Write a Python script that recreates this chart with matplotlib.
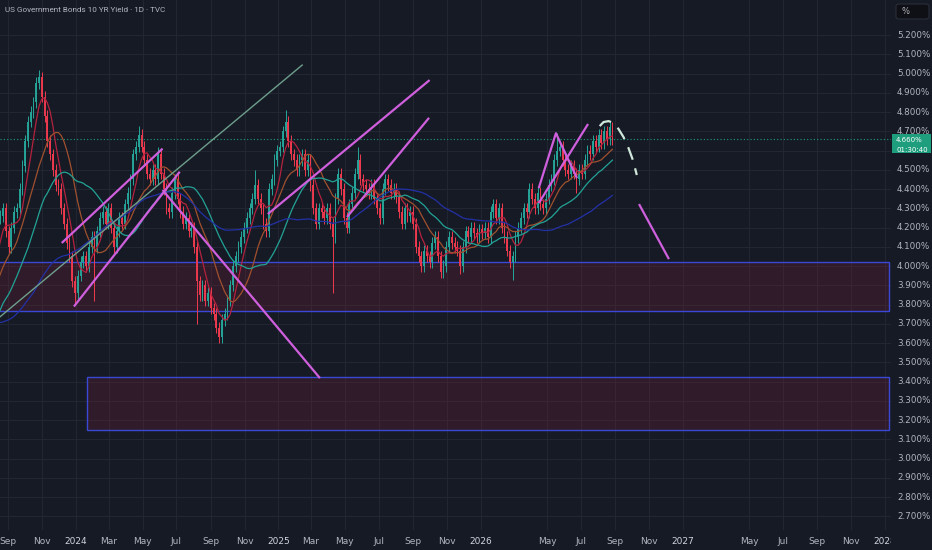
import matplotlib
matplotlib.use("Agg")
import matplotlib.pyplot as plt
import matplotlib.dates as mdates
from matplotlib.patches import Rectangle, FancyBboxPatch
from matplotlib.transforms import blended_transform_factory
import numpy as np
import pandas as pd

BG = "#161a25"
GRID = "#222632"
TXT = "#b2b5be"
UP = "#26a69a"
DOWN = "#ef3a4f"
PINK = "#cf5fdd"

title = "US Government Bonds 10 YR Yield · 1D · TVC"

# one candle every 5 calendar days, first one on 2023-08-18
first_day = "2023-08-18"
closes = [
    4.26, 4.30, 4.18, 4.10, 4.20, 4.28, 4.30, 4.40, 4.52, 4.65,
    4.75, 4.80, 4.85, 4.95, 4.98, 4.88, 4.78, 4.65, 4.58, 4.50,
    4.42, 4.40, 4.30, 4.22, 4.12, 4.05, 3.92, 3.86, 3.95, 4.02,
    4.05, 4.00, 4.10, 4.15, 4.10, 4.18, 4.25, 4.28, 4.22, 4.30,
    4.20, 4.10, 4.18, 4.25, 4.22, 4.32, 4.38, 4.45, 4.58, 4.62,
    4.68, 4.62, 4.55, 4.48, 4.45, 4.50, 4.45, 4.58, 4.48, 4.40,
    4.30, 4.28, 4.38, 4.45, 4.35, 4.28, 4.22, 4.25, 4.18, 4.20,
    4.10, 3.92, 3.85, 3.90, 3.82, 3.86, 3.78, 3.75, 3.68, 3.63,
    3.72, 3.75, 3.82, 3.90, 4.00, 4.05, 4.10, 4.15, 4.20, 4.25,
    4.30, 4.35, 4.42, 4.35, 4.30, 4.22, 4.18, 4.40, 4.45, 4.55,
    4.60, 4.62, 4.70, 4.75, 4.65, 4.58, 4.55, 4.50, 4.55, 4.58,
    4.50, 4.55, 4.42, 4.30, 4.22, 4.30, 4.28, 4.25, 4.30, 4.22,
    4.15, 4.35, 4.48, 4.40, 4.25, 4.20, 4.32, 4.38, 4.48, 4.55,
    4.45, 4.42, 4.40, 4.38, 4.42, 4.35, 4.30, 4.25, 4.40, 4.45,
    4.42, 4.38, 4.40, 4.36, 4.28, 4.22, 4.30, 4.26, 4.28, 4.22,
    4.10, 4.05, 4.00, 4.08, 4.05, 4.02, 4.12, 4.15, 4.05, 3.97,
    4.00, 4.10, 4.15, 4.12, 4.10, 4.08, 4.00, 4.10, 4.18, 4.15,
    4.20, 4.17, 4.15, 4.19, 4.17, 4.20, 4.15, 4.28, 4.32, 4.25,
    4.30, 4.20, 4.15, 4.08, 4.02, 4.05, 4.15, 4.20, 4.25, 4.30,
    4.28, 4.40, 4.35, 4.30, 4.38, 4.32, 4.30, 4.35, 4.42, 4.45,
    4.55, 4.60, 4.62, 4.55, 4.50, 4.48, 4.52, 4.48, 4.45, 4.50,
    4.48, 4.55, 4.60, 4.58, 4.65, 4.62, 4.68, 4.64, 4.70, 4.66,
    4.72, 4.66,
]
# closes before the visible window, only feed the moving averages
history = [
    4.05, 4.15, 3.85, 3.82, 3.75, 3.68, 3.55, 3.50, 3.58, 3.48, 3.68, 3.83,
    3.75, 3.56, 3.50, 3.48, 3.52, 3.50, 3.40, 3.62, 3.70, 3.80, 3.92, 3.95,
    3.98, 3.70, 3.48, 3.40, 3.55, 3.48, 3.35, 3.42, 3.55, 3.52, 3.45, 3.42,
    3.45, 3.48, 3.55, 3.70, 3.78, 3.65, 3.70, 3.78, 3.75, 3.72, 3.84,
    4.05, 3.85, 3.78, 3.88, 3.95, 4.02, 4.10, 4.18, 4.25,
]
# long wicks
hi_idx = [14, 50, 57, 92, 103, 129, 201, 220]
hi_val = [5.02, 4.73, 4.62, 4.50, 4.81, 4.62, 4.69, 4.75]
lo_idx = [27, 34, 71, 79, 120, 159, 166, 185, 208]
lo_val = [3.80, 3.82, 3.70, 3.61, 3.86, 3.94, 3.96, 3.93, 4.38]

ma_len = [6, 14, 26, 56]
ma_col = ["#b3223e", "#a0502e", "#22a396", "#2331a6"]

xtick_dates = ["2023-09-01", "2023-11-01", "2024-01-01", "2024-03-01", "2024-05-01",
               "2024-07-01", "2024-09-01", "2024-11-01", "2025-01-01", "2025-03-01",
               "2025-05-01", "2025-07-01", "2025-09-01", "2025-11-01", "2026-01-01",
               "2026-05-01", "2026-07-01", "2026-09-01", "2026-11-01", "2027-01-01",
               "2027-05-01", "2027-07-01", "2027-09-01", "2027-11-01", "2028-01-01"]
xtick_text = ["Sep", "Nov", "2024", "Mar", "May", "Jul", "Sep", "Nov", "2025", "Mar",
              "May", "Jul", "Sep", "Nov", "2026", "May", "Jul", "Sep", "Nov", "2027",
              "May", "Jul", "Sep", "Nov", "2028"]
price_ticks = [round(2.7 + 0.1 * i, 1) for i in range(26)]

# drawings on the chart
gray_line = (["2023-08-17", "2025-02-13"], [3.735, 5.044])
pink_lines = [
    (["2023-12-07", "2024-06-06"], [4.12, 4.61]),
    (["2023-12-29", "2024-07-07"], [3.79, 4.49]),
    (["2024-06-06", "2025-03-17"], [4.395, 3.418]),
    (["2024-12-13", "2025-10-01"], [4.27, 4.966]),
    (["2025-05-05", "2025-09-30"], [4.255, 4.77]),
    (["2026-04-16", "2026-05-17", "2026-06-24"], [4.405, 4.69, 4.457]),
    (["2026-04-16", "2026-07-14"], [4.327, 4.738]),
    (["2026-10-14", "2026-12-07"], [4.322, 4.036]),
]
arc_dates = ["2026-08-04", "2026-08-11", "2026-08-20", "2026-08-29", "2026-09-07",
             "2026-09-16", "2026-09-25", "2026-10-03", "2026-10-10"]
arc_vals = [4.727, 4.748, 4.753, 4.743, 4.712, 4.67, 4.613, 4.55, 4.473]
zone_start = ["2023-08-01", "2024-01-21"]
zone_low = [3.766, 3.148]
zone_high = [4.021, 3.423]
zone_end = "2028-01-08"


def dn(d):
    return mdates.date2num(pd.Timestamp(d))


dates = pd.date_range(first_day, periods=len(closes), freq="5D")
hist_dates = pd.date_range(end=dates[0] - pd.Timedelta(days=5), periods=len(history), freq="5D")
x = mdates.date2num(dates)
x_all = np.r_[mdates.date2num(hist_dates), x]

c = np.array(closes)
o = np.r_[history[-1], c[:-1]]
hi = np.maximum(o, c) + 0.03
lo = np.minimum(o, c) - 0.03
hi[hi_idx] = np.maximum(hi[hi_idx], hi_val)
lo[lo_idx] = np.minimum(lo[lo_idx], lo_val)
col = np.where(c >= o, UP, DOWN)

fig = plt.figure(figsize=(9.32, 5.5), dpi=100, facecolor=BG)
ax = fig.add_axes([0, 20 / 550, 891 / 932, 530 / 550])
ax.set_facecolor(BG)
ax.set_axisbelow(True)

base = dn("2023-09-01")
ppd = 877 / 1583
ax.set_xlim(base - 8 / ppd, base + 883 / ppd)
ax.set_ylim(2.629, 5.382)

# zones
for s, l, h in zip(zone_start, zone_low, zone_high):
    ax.add_patch(Rectangle((dn(s), l), dn(zone_end) - dn(s), h - l,
                           facecolor=(0.55, 0.13, 0.22, 0.22), edgecolor="#3949d6",
                           lw=1, zorder=0.8))

# moving averages
full = pd.Series(history + closes)
for n, cc in zip(ma_len, ma_col):
    ax.plot(x_all, full.rolling(n).mean(), color=cc, lw=0.9, zorder=2.5)

# candles
ax.vlines(x, lo, hi, colors=col, lw=0.7, zorder=2)
ax.bar(x, np.maximum(np.abs(c - o), 0.006), bottom=np.minimum(o, c), width=3.2,
       color=col, lw=0, zorder=2.2, alpha=0.95)

# drawings
ax.plot([dn(d) for d in gray_line[0]], gray_line[1], color="#6e9e8c", lw=1.0, zorder=3)
for ds, vs in pink_lines:
    ax.plot([dn(d) for d in ds], vs, color=PINK, lw=1.6, zorder=4, solid_capstyle="butt")
ax.plot([dn(d) for d in arc_dates], arc_vals, color="#cfe6da", lw=1.6,
        dashes=(6, 4), zorder=4)

# last price line
last = closes[-1]
ax.axhline(last, color="#1f9e7d", lw=0.8, ls=(0, (1, 2)), zorder=1.5)

# grid and ticks
ax.set_xticks([dn(d) for d in xtick_dates])
ax.set_xticklabels(xtick_text)
for t, s in zip(ax.get_xticklabels(), xtick_text):
    t.set_color("#d1d4dc" if s.isdigit() else TXT)
ax.set_yticks(price_ticks)
ax.set_yticklabels([])
ax.tick_params(axis="both", length=0, labelsize=6.5, pad=5)
ax.grid(True, color=GRID, lw=0.8)
for sp in ax.spines.values():
    sp.set_visible(False)

# price scale panel
ax.add_patch(Rectangle((1.0, -0.05), 0.06, 1.1, transform=ax.transAxes, clip_on=False,
                       facecolor=BG, edgecolor="none", zorder=10))
ytr = blended_transform_factory(ax.transAxes, ax.transData)
box_lo, box_hi = last - 0.075, last + 0.026
for v in price_ticks:
    if box_lo < v < box_hi:
        continue  # hidden behind the last-price tag
    ax.text(1 + 6 / 891, v, f"{v:.3f}%", transform=ytr, ha="left", va="center",
            fontsize=6.3, color=TXT, zorder=11, clip_on=False)
ax.add_patch(Rectangle((1 + 1 / 891, box_lo), 39 / 891, box_hi - box_lo, transform=ytr,
                       clip_on=False, facecolor="#1f9e7d", edgecolor="none", zorder=12))
ax.text(1 + 5 / 891, last - 0.004, f"{last:.3f}%", transform=ytr, ha="left",
        va="center_baseline", fontsize=5.0, color="white", zorder=13, clip_on=False)
ax.text(1 + 5 / 891, last - 0.055, "01:30:40", transform=ytr, ha="left",
        va="center_baseline", fontsize=5.0, color="white", zorder=13, clip_on=False)

fig.patches.append(FancyBboxPatch((896 / 932, 1 - 19 / 550), 33 / 932, 15 / 550,
                                  boxstyle="round,pad=0,rounding_size=0.004",
                                  transform=fig.transFigure, facecolor="#0e1016",
                                  edgecolor="#2a2e39", lw=0.8, zorder=5))
fig.text(901 / 932, 1 - 11 / 550, "%", color=TXT, fontsize=6, va="center", ha="left", zorder=6)

fig.text(5 / 932, 1 - 10 / 550, title, color=TXT, fontsize=5.9, va="center", ha="left",
         family="Roboto")

fig.savefig("out.png", dpi=100, facecolor=BG)
